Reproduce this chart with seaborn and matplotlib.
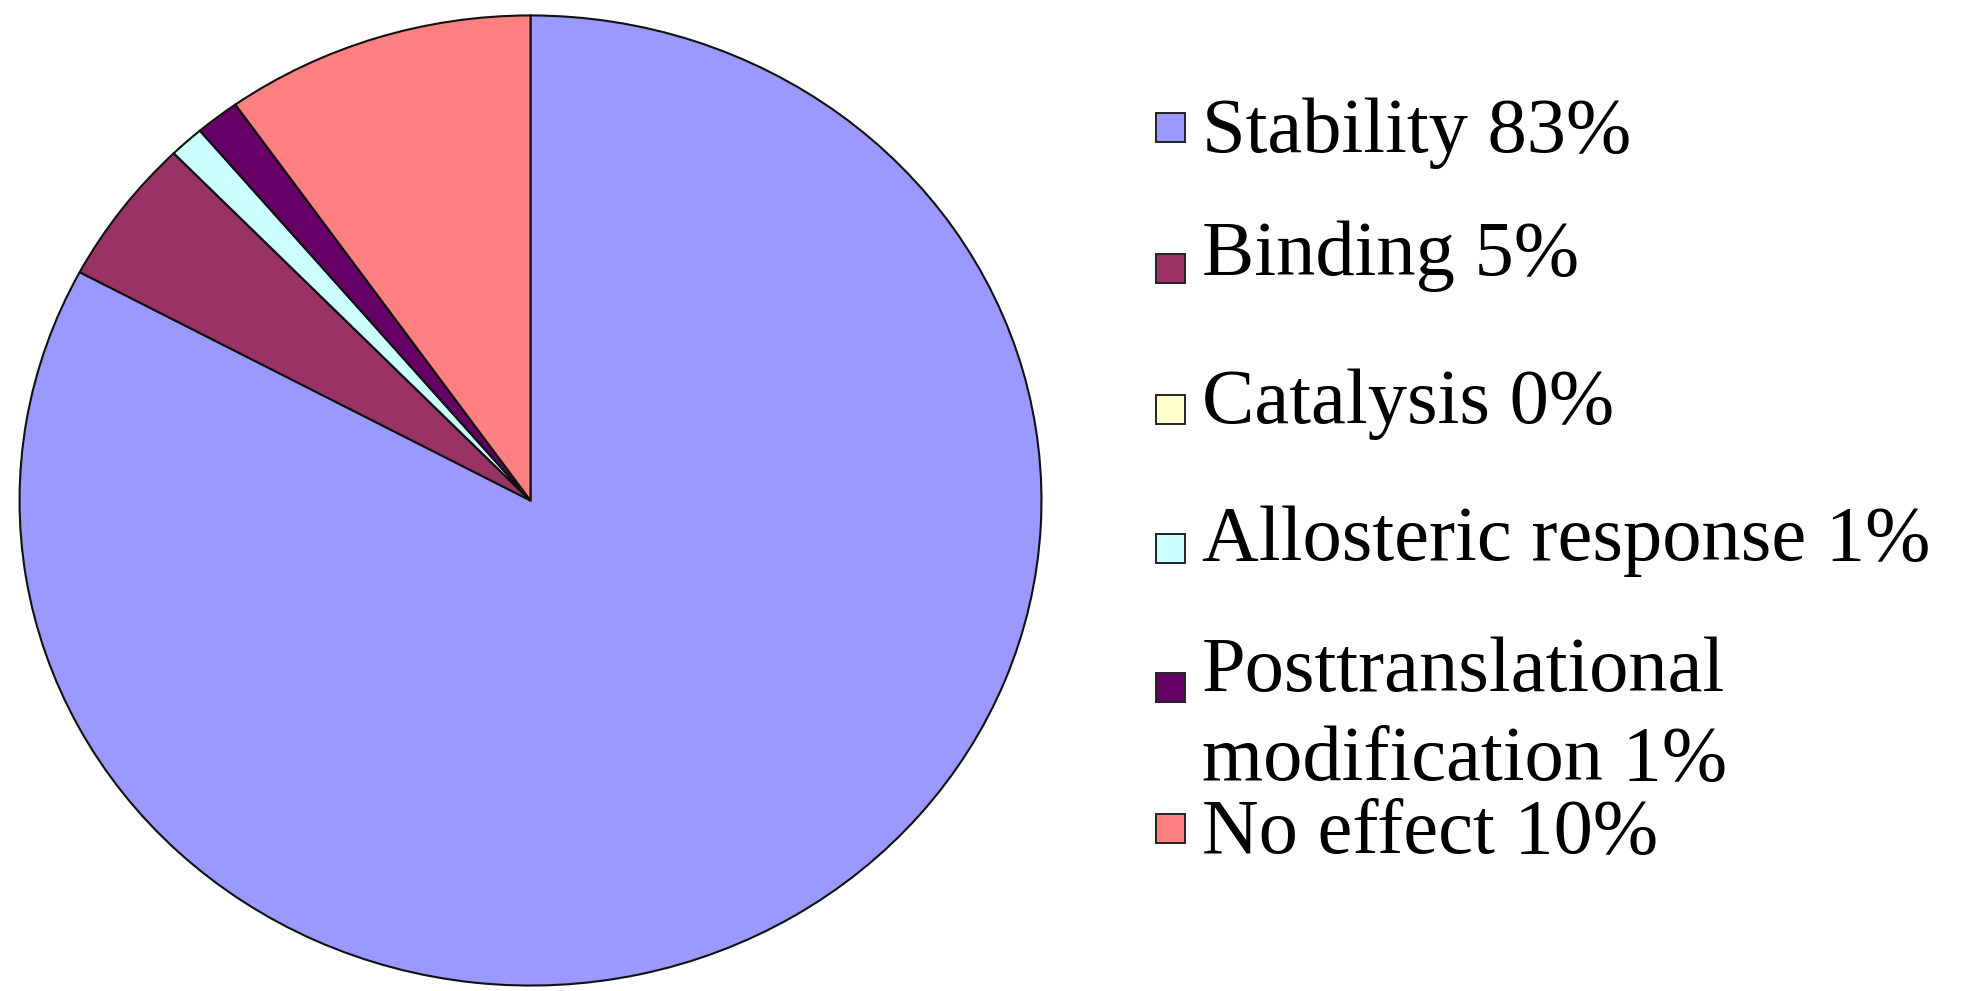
import matplotlib
matplotlib.use("Agg")
import matplotlib.pyplot as plt
from matplotlib.patches import Rectangle
import seaborn as sns

# Effect categories and their share of all cases (percent)
categories = ["Stability", "Binding", "Catalysis", "Allosteric response",
              "Posttranslational\nmodification", "No effect"]
shares = [82.8, 4.9, 0.0, 1.1, 1.4, 9.8]
colors = ["#9999FF", "#993366", "#FFFFCC", "#CCFFFF", "#660066", "#FF8080"]

sns.set_theme(style="white")
plt.rcParams["font.family"] = ["Liberation Serif", "DejaVu Serif"]

W, H, DPI = 1965, 991, 100
fig = plt.figure(figsize=(W / DPI, H / DPI), dpi=DPI)
fig.patch.set_facecolor("white")

# Pie area (pixel box of the ellipse)
left, right, top, bottom = 18, 1043, 14, 987
ax = fig.add_axes([left / W, (H - bottom) / H, (right - left) / W, (bottom - top) / H])
ax.pie(shares, colors=colors, startangle=90, counterclock=False, radius=1.0,
       wedgeprops=dict(edgecolor="#111111", linewidth=1.5))
ax.set_aspect("auto")
ax.set_xlim(-1.003, 1.003)
ax.set_ylim(-1.003, 1.003)
ax.axis("off")

# Legend on the right: colour square + label with rounded percentage
text_x = 1202
box_x, box_size = 1156, 29
line_gap = 92
first_baselines = [152, 275, 423, 560, 688, 853]
box_centers = [127, 268, 409, 548, 687, 828]
for name, val, col, yb, yc in zip(categories, shares, colors, first_baselines, box_centers):
    fig.patches.append(Rectangle((box_x / W, (H - yc - box_size / 2) / H),
                                 box_size / W, box_size / H,
                                 transform=fig.transFigure, facecolor=col,
                                 edgecolor="#222222", linewidth=1.4))
    label = f"{name} {val:.0f}%"
    n_extra = label.count("\n")
    fig.text(text_x / W, (H - yb - n_extra * line_gap) / H, label, fontsize=56.5,
             color="black", ha="left", va="baseline", linespacing=1.32)

fig.savefig("out.png", dpi=DPI, facecolor="white")
